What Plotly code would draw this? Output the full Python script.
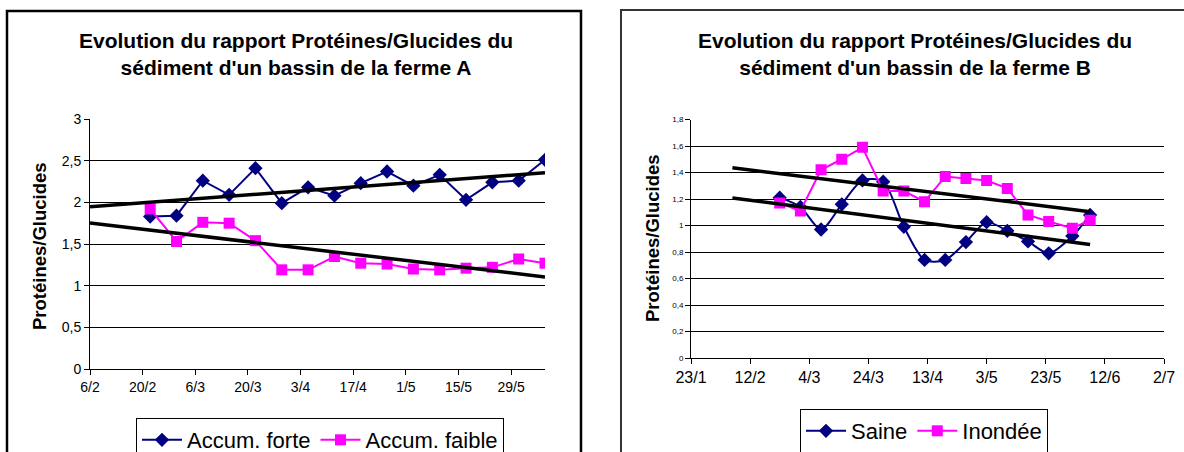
import numpy as np
import pandas as pd
import plotly.graph_objects as go

YEAR = 2003

# ---------------- data: farm A ----------------
dates_A = ["22/2", "1/3", "8/3", "15/3", "22/3", "29/3", "5/4", "12/4",
           "19/4", "26/4", "3/5", "10/5", "17/5", "24/5", "31/5", "7/6"]
forte = [1.83, 1.84, 2.26, 2.09, 2.41, 1.99, 2.18, 2.08,
         2.23, 2.37, 2.20, 2.33, 2.03, 2.24, 2.26, 2.51]
faible = [1.92, 1.53, 1.76, 1.75, 1.54, 1.19, 1.19, 1.35,
          1.27, 1.26, 1.20, 1.19, 1.21, 1.22, 1.32, 1.27]
xticks_A = ["6/2", "20/2", "6/3", "20/3", "3/4", "17/4", "1/5", "15/5", "29/5"]
xrange_A = ["6/2", "7/6"]
yticks_A = [0, 0.5, 1, 1.5, 2, 2.5, 3]

# ---------------- data: farm B ----------------
dates_B = ["22/2", "1/3", "8/3", "15/3", "22/3", "29/3", "5/4", "12/4",
           "19/4", "26/4", "3/5", "10/5", "17/5", "24/5", "1/6", "7/6"]
saine = [1.21, 1.14, 0.97, 1.16, 1.34, 1.33, 0.99, 0.74,
         0.74, 0.875, 1.025, 0.96, 0.88, 0.79, 0.92, 1.08]
inondee = [1.17, 1.11, 1.42, 1.50, 1.59, 1.26, 1.26, 1.18,
           1.37, 1.355, 1.34, 1.28, 1.08, 1.03, 0.98, 1.04]
xticks_B = ["23/1", "12/2", "4/3", "24/3", "13/4", "3/5", "23/5", "12/6", "2/7"]
xrange_B = ["23/1", "2/7"]
yticks_B = [0, 0.2, 0.4, 0.6, 0.8, 1.0, 1.2, 1.4, 1.6, 1.8]

trend_start = "6/2"   # linear trendlines are extended back to this date

title_A = "Evolution du rapport Protéines/Glucides du<br>sédiment d'un bassin de la ferme A"
title_B = "Evolution du rapport Protéines/Glucides du<br>sédiment d'un bassin de la ferme B"
ytitle = "Protéines/Glucides"
names_A = ["Accum. forte", "Accum. faible"]
names_B = ["Saine", "Inondée"]


def d(s):
    day, month = s.split("/")
    return pd.Timestamp(YEAR, int(month), int(day))


def trend(dates, vals):
    base = d("1/1")
    x = np.array([(d(s) - base).days for s in dates], dtype=float)
    a, b = np.polyfit(x, np.array(vals, dtype=float), 1)
    xs = [d(trend_start), d(dates[-1])]
    ys = [a * (t - base).days + b for t in xs]
    return xs, ys


W, H = 1184, 452
NAVY = "#000080"
PINK = "#FF00FF"
FONT = "Liberation Sans, Arial, sans-serif"

fig = go.Figure()

# ---- chart A ----
xa = [d(s) for s in dates_A]
fig.add_trace(go.Scatter(x=xa, y=forte, name=names_A[0], mode="lines+markers",
                         line=dict(color=NAVY, width=2),
                         marker=dict(symbol="diamond", size=11, color=NAVY),
                         xaxis="x", yaxis="y", legend="legend"))
fig.add_trace(go.Scatter(x=xa, y=faible, name=names_A[1], mode="lines+markers",
                         line=dict(color=PINK, width=2),
                         marker=dict(symbol="square", size=11, color=PINK),
                         xaxis="x", yaxis="y", legend="legend"))
for vals in (forte, faible):
    tx, ty = trend(dates_A, vals)
    fig.add_trace(go.Scatter(x=tx, y=ty, mode="lines", showlegend=False,
                             line=dict(color="black", width=3.5),
                             xaxis="x", yaxis="y", hoverinfo="skip"))

# ---- chart B ----
xb = [d(s) for s in dates_B]
fig.add_trace(go.Scatter(x=xb, y=saine, name=names_B[0], mode="lines+markers",
                         line=dict(color=NAVY, width=2, shape="spline", smoothing=0.8),
                         marker=dict(symbol="diamond", size=11, color=NAVY),
                         xaxis="x2", yaxis="y2", legend="legend2"))
fig.add_trace(go.Scatter(x=xb, y=inondee, name=names_B[1], mode="lines+markers",
                         line=dict(color=PINK, width=2),
                         marker=dict(symbol="square", size=11, color=PINK),
                         xaxis="x2", yaxis="y2", legend="legend2"))
for vals in (saine, inondee):
    tx, ty = trend(dates_B, vals)
    fig.add_trace(go.Scatter(x=tx, y=ty, mode="lines", showlegend=False,
                             line=dict(color="black", width=3.5),
                             xaxis="x2", yaxis="y2", hoverinfo="skip"))


def px(x):
    return x / W


def py(y):
    return 1 - y / H


common_x = dict(type="date", showgrid=False, showline=True, linecolor="black",
                linewidth=1, ticks="outside", ticklen=5, tickcolor="black",
                zeroline=False, fixedrange=True, automargin=False)
common_y = dict(showgrid=True, gridcolor="black", gridwidth=1, showline=True,
                linecolor="black", linewidth=1, ticks="outside", ticklen=5,
                tickcolor="black", zeroline=False, fixedrange=True, automargin=False)

fig.update_layout(
    width=W, height=H,
    margin=dict(l=0, r=0, t=0, b=0, autoexpand=False),
    paper_bgcolor="white", plot_bgcolor="white",
    separators=", ",
    font=dict(family=FONT, color="black"),
    xaxis=dict(common_x, domain=[px(90), px(545)], anchor="y",
               range=[d(xrange_A[0]), d(xrange_A[1])],
               tickvals=[d(s) for s in xticks_A], ticktext=xticks_A,
               tickfont=dict(size=14)),
    yaxis=dict(common_y, domain=[py(369), py(119)], anchor="x",
               range=[0, 3], tickvals=yticks_A, tickfont=dict(size=14)),
    xaxis2=dict(common_x, domain=[px(691), px(1164)], anchor="y2",
                range=[d(xrange_B[0]), d(xrange_B[1])],
                tickvals=[d(s) for s in xticks_B], ticktext=xticks_B,
                tickfont=dict(size=16)),
    yaxis2=dict(common_y, domain=[py(358), py(119.5)], anchor="x2",
                range=[0, 1.8], tickvals=yticks_B, tickfont=dict(size=8)),
    legend=dict(orientation="h", x=px(320), xanchor="center", y=py(418), yanchor="top",
                bordercolor="black", borderwidth=1, bgcolor="white",
                font=dict(size=22), itemwidth=40),
    legend2=dict(orientation="h", x=px(924), xanchor="center", y=py(409), yanchor="top",
                 bordercolor="black", borderwidth=1, bgcolor="white",
                 font=dict(size=22), itemwidth=40),
    shapes=[
        dict(type="rect", xref="paper", yref="paper", x0=px(7), x1=px(581),
             y0=py(470), y1=py(11), line=dict(color="black", width=2.5)),
        dict(type="rect", xref="paper", yref="paper", x0=px(621), x1=px(1200),
             y0=py(470), y1=py(10), line=dict(color="#333333", width=2)),
    ],
    annotations=[
        dict(text="<b>" + title_A + "</b>", xref="paper", yref="paper",
             x=px(296), y=py(54), xanchor="center", yanchor="middle",
             showarrow=False, font=dict(size=21)),
        dict(text="<b>" + title_B + "</b>", xref="paper", yref="paper",
             x=px(915), y=py(54), xanchor="center", yanchor="middle",
             showarrow=False, font=dict(size=21)),
        dict(text="<b>" + ytitle + "</b>", xref="paper", yref="paper",
             x=px(40), y=py(246), xanchor="center", yanchor="middle", textangle=-90,
             showarrow=False, font=dict(size=18.5)),
        dict(text="<b>" + ytitle + "</b>", xref="paper", yref="paper",
             x=px(652), y=py(238), xanchor="center", yanchor="middle", textangle=-90,
             showarrow=False, font=dict(size=18.5)),
    ],
)

fig.write_html("out.html")
